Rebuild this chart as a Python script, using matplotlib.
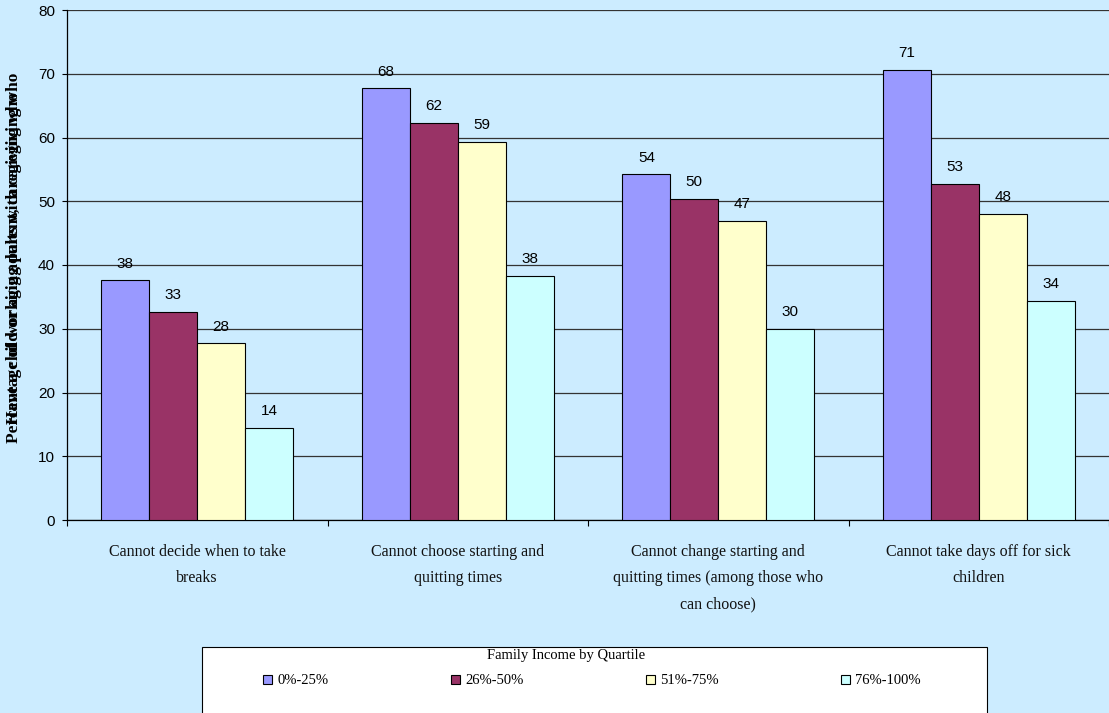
import matplotlib
matplotlib.use("Agg")
import matplotlib.pyplot as plt
from matplotlib.patches import Rectangle
import numpy as np

categories = [
    "Cannot decide when to take\nbreaks",
    "Cannot choose starting and\nquitting times",
    "Cannot change starting and\nquitting times (among those who\ncan choose)",
    "Cannot take days off for sick\nchildren",
]
series_names = ["0%-25%", "26%-50%", "51%-75%", "76%-100%"]
q1 = [37.6, 67.7, 54.2, 70.6]
q2 = [32.6, 62.3, 50.4, 52.7]
q3 = [27.7, 59.3, 46.9, 48.0]
q4 = [14.4, 38.3, 30.0, 34.4]
series_values = [q1, q2, q3, q4]
colors = ["#9999FF", "#993366", "#FFFFCC", "#CCFFFF"]
ylabel_lines = ["Percentage of working adults with caregiving who",
                "Have a child or aging parent, caregiving who"]
legend_title = "Family Income by Quartile"

BG = "#CCECFF"
W, H, DPI = 1109, 713, 100
fig = plt.figure(figsize=(W / DPI, H / DPI), dpi=DPI, facecolor=BG)
ax = fig.add_axes([67 / W, 1 - 520 / H, (W - 67) / W, (520 - 10) / H])
ax.set_facecolor(BG)

x = np.arange(len(categories))
bw = 0.184
offsets = (np.arange(4) - 1.5) * bw
for vals, off, c, name in zip(series_values, offsets, colors, series_names):
    bars = ax.bar(x + off, vals, width=bw, color=c, edgecolor="black",
                  linewidth=0.8, label=name, zorder=3)
    for b, v in zip(bars, vals):
        ax.annotate(f"{v:.0f}", (b.get_x() + b.get_width() / 2, v),
                    xytext=(0, 7), textcoords="offset points",
                    ha="center", va="bottom", fontsize=11,
                    family="Liberation Sans", color="black", zorder=4)

ax.set_xlim(-0.5, len(categories) - 0.5)
ax.set_ylim(0, 80)
ax.set_yticks(np.arange(0, 81, 10))
ax.yaxis.grid(True, color="#333333", linewidth=0.9, zorder=0)
ax.set_axisbelow(True)
ax.tick_params(axis="y", direction="out", length=3.6, width=0.8,
               labelsize=11, pad=5)
for lbl in ax.get_yticklabels():
    lbl.set_family("Liberation Sans")

# boundary ticks (major) and centred category labels (minor)
ax.set_xticks(np.arange(-0.5, len(categories), 1.0))
ax.set_xticklabels([])
ax.tick_params(axis="x", which="major", direction="out", length=4, width=0.8)
ax.set_xticks(x, minor=True)
ax.set_xticklabels(categories, minor=True, family="Liberation Serif",
                   fontsize=11.5, linespacing=1.85, color="#111111")
ax.tick_params(axis="x", which="minor", length=0, pad=17)

for side in ("top", "right"):
    ax.spines[side].set_visible(False)
for side in ("left", "bottom"):
    ax.spines[side].set_linewidth(0.9)

for line in ylabel_lines:
    fig.text(14 / W, 1 - 258 / H, line, rotation=90, ha="center", va="center",
             family="Liberation Serif", fontweight="bold", fontsize=12.5)

# legend box
fig.patches.append(Rectangle((202 / W, 1 - 725 / H), (987 - 202) / W, (725 - 647) / H,
                             transform=fig.transFigure, facecolor="white",
                             edgecolor="black", linewidth=0.8, zorder=1))
fig.text(566 / W, 1 - 655 / H, legend_title, ha="center", va="center",
         family="Liberation Serif", fontsize=10.5, zorder=3)
handles, labels = ax.get_legend_handles_labels()
leg = fig.legend(handles, labels, ncol=4, loc="center left",
                 bbox_to_anchor=(263 / W, 1 - 681 / H),
                 frameon=False,
                 prop={"family": "Liberation Serif", "size": 10.5},
                 handlelength=0.62, handleheight=0.62, handletextpad=0.35,
                 columnspacing=8.4, borderaxespad=0.0, borderpad=0.0)
leg.set_zorder(2)

fig.savefig("out.png", dpi=DPI, facecolor=BG)
